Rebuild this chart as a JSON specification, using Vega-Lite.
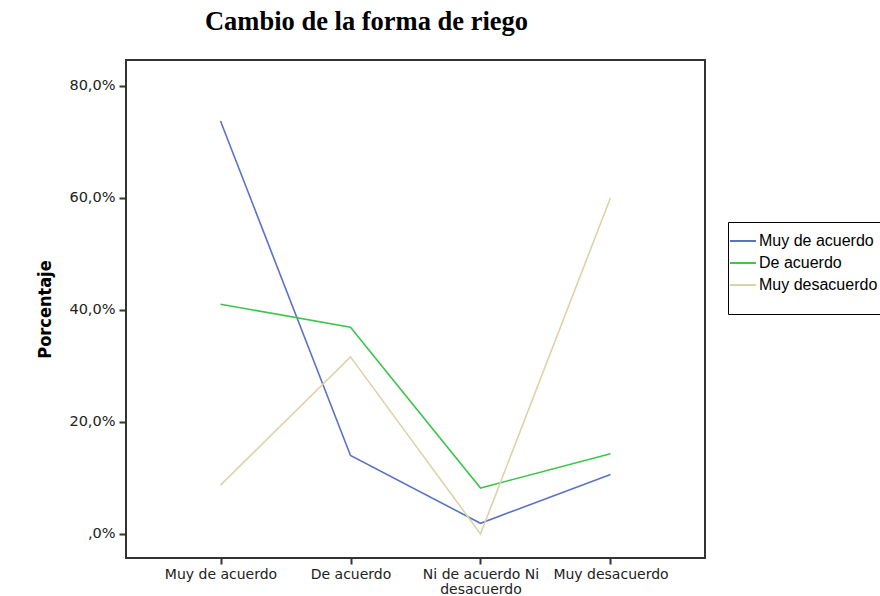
{
  "$schema": "https://vega.github.io/schema/vega-lite/v6.json",
  "width": 579,
  "height": 498,
  "autosize": {"type": "none"},
  "padding": {"left": 126, "top": 60, "right": 175, "bottom": 38},
  "background": "white",
  "title": {
    "text": "Cambio de la forma de riego",
    "font": "Liberation Serif",
    "fontSize": 26.5,
    "fontWeight": "bold",
    "color": "black",
    "anchor": "middle",
    "dx": -49,
    "offset": 25
  },
  "data": {
    "values": [
      {"respuesta": "Muy de acuerdo", "serie": "Muy de acuerdo", "orden": 1, "porcentaje": 73.7},
      {"respuesta": "De acuerdo", "serie": "Muy de acuerdo", "orden": 2, "porcentaje": 14.0},
      {"respuesta": "Ni de acuerdo Ni desacuerdo", "serie": "Muy de acuerdo", "orden": 3, "porcentaje": 1.9},
      {"respuesta": "Muy desacuerdo", "serie": "Muy de acuerdo", "orden": 4, "porcentaje": 10.6},
      {"respuesta": "Muy de acuerdo", "serie": "De acuerdo", "orden": 1, "porcentaje": 41.0},
      {"respuesta": "De acuerdo", "serie": "De acuerdo", "orden": 2, "porcentaje": 36.9},
      {"respuesta": "Ni de acuerdo Ni desacuerdo", "serie": "De acuerdo", "orden": 3, "porcentaje": 8.2},
      {"respuesta": "Muy desacuerdo", "serie": "De acuerdo", "orden": 4, "porcentaje": 14.3},
      {"respuesta": "Muy de acuerdo", "serie": "Muy desacuerdo", "orden": 1, "porcentaje": 8.7},
      {"respuesta": "De acuerdo", "serie": "Muy desacuerdo", "orden": 2, "porcentaje": 31.6},
      {"respuesta": "Ni de acuerdo Ni desacuerdo", "serie": "Muy desacuerdo", "orden": 3, "porcentaje": 0.0},
      {"respuesta": "Muy desacuerdo", "serie": "Muy desacuerdo", "orden": 4, "porcentaje": 60.0}
    ]
  },
  "mark": {"type": "line", "strokeWidth": 1.6},
  "encoding": {
    "x": {
      "field": "respuesta",
      "type": "ordinal",
      "sort": ["Muy de acuerdo", "De acuerdo", "Ni de acuerdo Ni desacuerdo", "Muy desacuerdo"],
      "scale": {"type": "point", "padding": 0.727},
      "axis": {
        "title": null,
        "labelAngle": 0,
        "labelFont": "DejaVu Sans",
        "labelFontSize": 14,
        "labelColor": "#222",
        "labelPadding": 3,
        "labelLimit": 200,
        "labelLineHeight": 15,
        "tickSize": 6,
        "tickWidth": 2,
        "tickColor": "#333",
        "domain": false,
        "grid": false,
        "labelExpr": "datum.label == 'Ni de acuerdo Ni desacuerdo' ? ['Ni de acuerdo Ni', 'desacuerdo'] : datum.label"
      }
    },
    "y": {
      "field": "porcentaje",
      "type": "quantitative",
      "scale": {"domain": [-4.3, 84.6], "nice": false, "zero": false},
      "axis": {
        "title": "Porcentaje",
        "titleFont": "DejaVu Sans Condensed",
        "titleFontSize": 18,
        "titleFontWeight": "bold",
        "titleColor": "black",
        "titleX": -81,
        "titleY": 249,
        "titleAngle": 270,
        "titleAlign": "center",
        "titleBaseline": "middle",
        "values": [0, 20, 40, 60, 80],
        "labelExpr": "datum.value == 0 ? ',0%' : replace(format(datum.value, '.1f'), '.', ',') + '%'",
        "labelFont": "DejaVu Sans",
        "labelFontSize": 14.5,
        "labelColor": "#222",
        "labelPadding": 4,
        "tickSize": 7,
        "tickWidth": 2,
        "tickColor": "#333",
        "domain": false,
        "grid": false
      }
    },
    "color": {
      "field": "serie",
      "type": "nominal",
      "sort": ["Muy de acuerdo", "De acuerdo", "Muy desacuerdo"],
      "scale": {
        "domain": ["Muy de acuerdo", "De acuerdo", "Muy desacuerdo"],
        "range": ["#5a72c8", "#3ec44c", "#dbd4a8"]
      },
      "legend": {
        "title": " ",
        "titleOrient": "bottom",
        "titleFontSize": 16,
        "titlePadding": 0,
        "orient": "none",
        "legendX": 602,
        "legendY": 162,
        "strokeColor": "black",
        "padding": 5,
        "symbolType": "stroke",
        "symbolSize": 676,
        "symbolStrokeWidth": 2,
        "symbolOffset": -4,
        "labelFont": "Liberation Sans",
        "labelFontSize": 16,
        "labelColor": "black",
        "labelOffset": 2,
        "rowPadding": -5,
        "labelLimit": 300
      }
    },
    "order": {"field": "orden", "type": "quantitative"}
  },
  "config": {
    "view": {"stroke": "#333", "strokeWidth": 2}
  }
}
